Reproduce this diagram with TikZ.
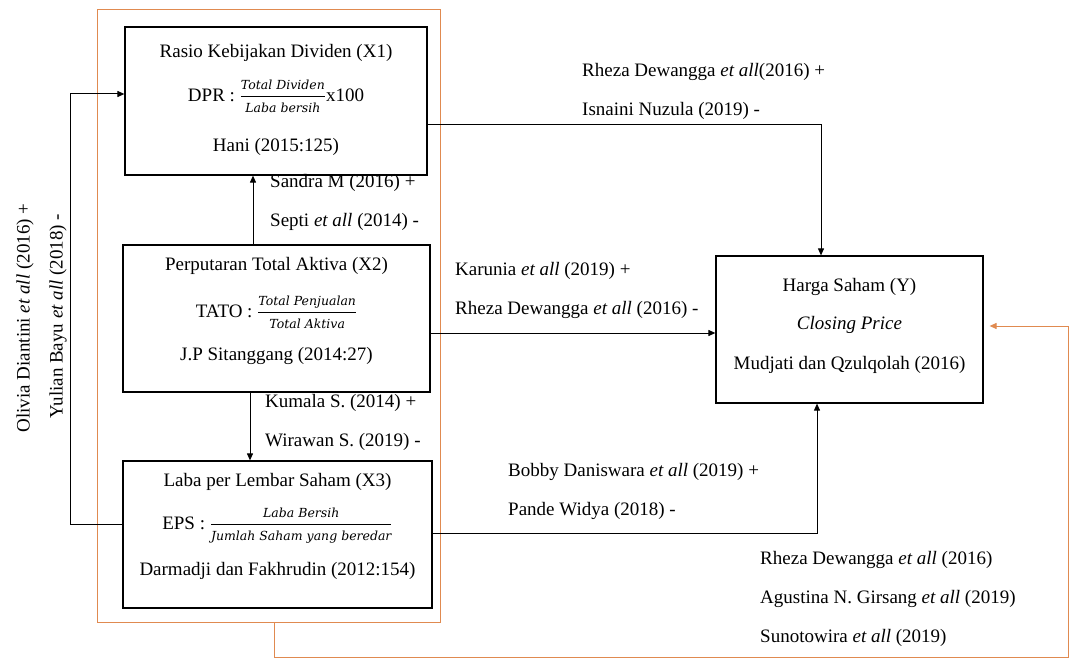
\documentclass[tikz,border=0pt]{standalone}
\usepackage{fontspec}
\setmainfont{Liberation Serif}
\newfontfamily\cambria{DejaVu Serif}
\usepackage{tikz}
\usetikzlibrary{arrows.meta,positioning}

\definecolor{frameorange}{RGB}{224,138,80}
\newcommand{\frc}[2]{$\displaystyle\frac{\hbox{\cambria\itshape\fontsize{12.5}{13}\selectfont #1}}{\hbox{\cambria\itshape\fontsize{12.5}{13}\selectfont #2}}$}

\begin{document}
\begin{tikzpicture}[
  x=1pt, y=-1pt,
  font=\fontsize{19}{23}\selectfont,
  varbox/.style={draw, line width=1.2pt, minimum height=147},
  boxtext/.style={align=center, inner sep=0pt},
  frame/.style={draw=frameorange, line width=1pt, minimum width=343, minimum height=612},
  lbl/.style={anchor=west, align=left, inner sep=0pt, font=\fontsize{19}{39}\selectfont},
  arr/.style={line width=1pt, -{Triangle[length=7pt,width=6pt]}},
  oarr/.style={arr, draw=frameorange}
  ]
  \useasboundingbox (0,0) rectangle (1076,660);

  % frame round the three variables
  \node[frame] (frame) at (268.5,316) {};

  \node[varbox, minimum width=302, minimum height=148] (x1) at (276,101) {};
  \node[boxtext, below=18pt of x1.north] (x1t) {Rasio Kebijakan Dividen (X1)\\[17pt]
    DPR : \frc{Total Dividen}{Laba bersih}x100\\[24pt]
    Hani (2015:125)};

  \node[varbox, minimum width=307] (x2) at (276.5,318.5) {};
  \node[boxtext, below=13pt of x2.north] (x2t) {Perputaran Total Aktiva (X2)\\[20pt]
    TATO : \frc{Total Penjualan}{Total Aktiva}\\[17pt]
    J.P Sitanggang (2014:27)};

  \node[varbox, minimum width=309] (x3) at (277.5,534.5) {};
  \node[boxtext, below=13pt of x3.north] (x3t) {Laba per Lembar Saham (X3)\\[16pt]
    EPS : \frc{Laba Bersih}{Jumlah Saham yang beredar}\\[18pt]
    Darmadji dan Fakhrudin (2012:154)};

  \node[varbox, minimum width=267] (y) at (849.5,329.5) {};
  \node[boxtext, below=23pt of y.north] (yt) {Harga Saham (Y)\\[15pt]
    \textit{Closing Price}\\[17pt]
    Mudjati dan Qzulqolah (2016)};

  % connectors
  \coordinate (up) at (253,0);
  \draw[arr] (x2.north -| up) -- (x1.south -| up);
  \coordinate (down) at (250,0);
  \draw[arr] (x2.south -| down) -- (x3.north -| down);
  \coordinate (lbot) at (70,524);
  \coordinate (ltop) at (70,94);
  \draw[arr] (x3.west |- lbot) -- (lbot) -- (ltop) -- (x1.west |- ltop);
  \coordinate (rtop) at (821,125);
  \draw[arr] (x1.east |- rtop) -- (rtop) -- (y.north -| rtop);
  \coordinate (mid) at (0,333);
  \draw[arr] (x2.east |- mid) -- (y.west |- mid);
  \coordinate (rbot) at (817,533);
  \draw[arr] (x3.east |- rbot) -- (rbot) -- (y.south -| rbot);
  \coordinate (obot) at (274,657);
  \coordinate (oright) at (1068,326);
  \draw[oarr, shorten >=6pt] (frame.south -| obot) -- (obot) -- (oright |- obot)
    -- (oright) -- (y.east |- oright);

  % sources
  \node[lbl] (l1) at (582,91) {Rheza Dewangga \textit{et all}(2016) +\\Isnaini Nuzula (2019) -};
  \node[lbl] (l2) at (270,202) {Sandra M (2016) +\\Septi \textit{et all} (2014) -};
  \node[lbl] (l3) at (455,290) {Karunia \textit{et all} (2019) +\\Rheza Dewangga \textit{et all} (2016) -};
  \node[lbl] (l4) at (265,422) {Kumala S. (2014) +\\Wirawan S. (2019) -};
  \node[lbl] (l5) at (508,491) {Bobby Daniswara \textit{et all} (2019) +\\Pande Widya (2018) -};
  \node[lbl] (l6) at (760,599) {Rheza Dewangga \textit{et all} (2016)\\Agustina N. Girsang \textit{et all} (2019)\\Sunotowira \textit{et all} (2019)};
  \node[rotate=90, inner sep=0pt] (l7) at (25,318) {Olivia Diantini \textit{et all} (2016) +};
  \node[rotate=90, inner sep=0pt] (l8) at (58,316) {Yulian Bayu \textit{et all} (2018) -};
\end{tikzpicture}
\end{document}
